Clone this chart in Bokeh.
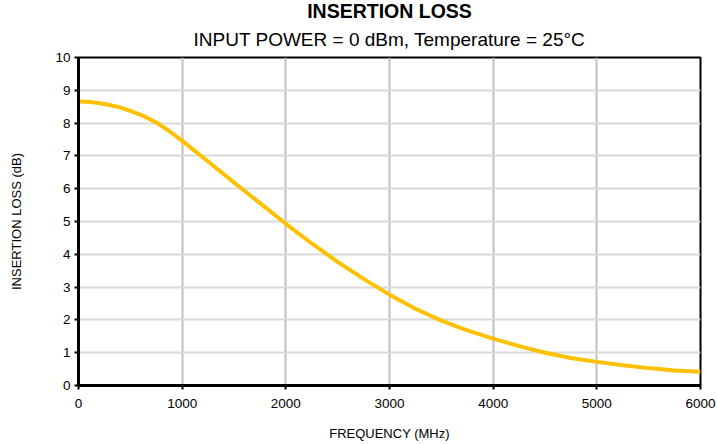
from bokeh.plotting import figure
from bokeh.models import Title, FixedTicker, Range1d
from bokeh.embed import file_html
from bokeh.resources import INLINE

freq_mhz = [0, 125, 250, 375, 500, 625, 750, 875, 1000, 1250, 1500, 1750, 2000, 2250, 2500,
            2750, 3000, 3250, 3500, 3750, 4000, 4250, 4500, 4750, 5000, 5250, 5500, 5750, 6000]
insertion_loss_db = [8.66, 8.64, 8.58, 8.50, 8.37, 8.22, 8.02, 7.76, 7.46, 6.83, 6.19, 5.56, 4.93,
                     4.33, 3.77, 3.25, 2.77, 2.34, 1.98, 1.68, 1.43, 1.20, 1.00, 0.84, 0.72,
                     0.62, 0.53, 0.46, 0.42]
x_ticks = [0, 1000, 2000, 3000, 4000, 5000, 6000]
y_ticks = [0, 1, 2, 3, 4, 5, 6, 7, 8, 9, 10]

title_text = "INSERTION LOSS"
subtitle_text = "INPUT POWER = 0 dBm, Temperature = 25°C"
x_label = "FREQUENCY (MHz)"
y_label = "INSERTION LOSS (dB)"

FONT = "Liberation Sans"

p = figure(frame_width=622, frame_height=328, output_backend="svg", toolbar_location=None,
           x_range=Range1d(0, 6000), y_range=Range1d(0, 10), title=None,
           min_border_left=78, min_border_right=17, min_border_top=0, min_border_bottom=60)

sub = Title(text=subtitle_text, align="center", text_font=FONT, text_font_size="19px",
            text_font_style="normal", text_color="black", standoff=16)
main = Title(text=title_text, align="center", text_font=FONT, text_font_size="19.5px",
             text_font_style="bold", text_color="black", standoff=-6)
p.add_layout(sub, "above")
p.add_layout(main, "above")

p.line(freq_mhz, insertion_loss_db, line_color="#FFC000", line_width=4)

p.xaxis.ticker = FixedTicker(ticks=x_ticks)
p.yaxis.ticker = FixedTicker(ticks=y_ticks)
for ax in (p.xaxis, p.yaxis):
    ax.axis_line_color = "black"
    ax.axis_line_width = 3
    ax.major_tick_line_color = "black"
    ax.major_tick_line_width = 2
    ax.major_tick_in = 0
    ax.major_tick_out = 4
    ax.minor_tick_line_color = None
    ax.major_label_text_font = FONT
    ax.major_label_text_font_size = "13.5px"
    ax.major_label_text_color = "black"
    ax.axis_label_text_font = FONT
    ax.axis_label_text_font_size = "13px"
    ax.axis_label_text_font_style = "normal"
    ax.axis_label_text_color = "black"

p.xaxis.axis_label = x_label
p.yaxis.axis_label = y_label
p.xaxis.major_label_standoff = 9
p.xaxis.axis_label_standoff = 15
p.yaxis.major_label_standoff = 4
p.yaxis.axis_label_standoff = 28

p.xgrid.ticker = FixedTicker(ticks=x_ticks)
p.ygrid.ticker = FixedTicker(ticks=y_ticks)
p.xgrid.grid_line_color = "#c0c0c0"
p.xgrid.grid_line_width = 2
p.ygrid.grid_line_color = "#d9d9d9"
p.ygrid.grid_line_width = 2

p.outline_line_color = "black"
p.outline_line_width = 2
p.background_fill_color = "white"
p.border_fill_color = "white"

open("out.html", "w").write(file_html(p, INLINE))
